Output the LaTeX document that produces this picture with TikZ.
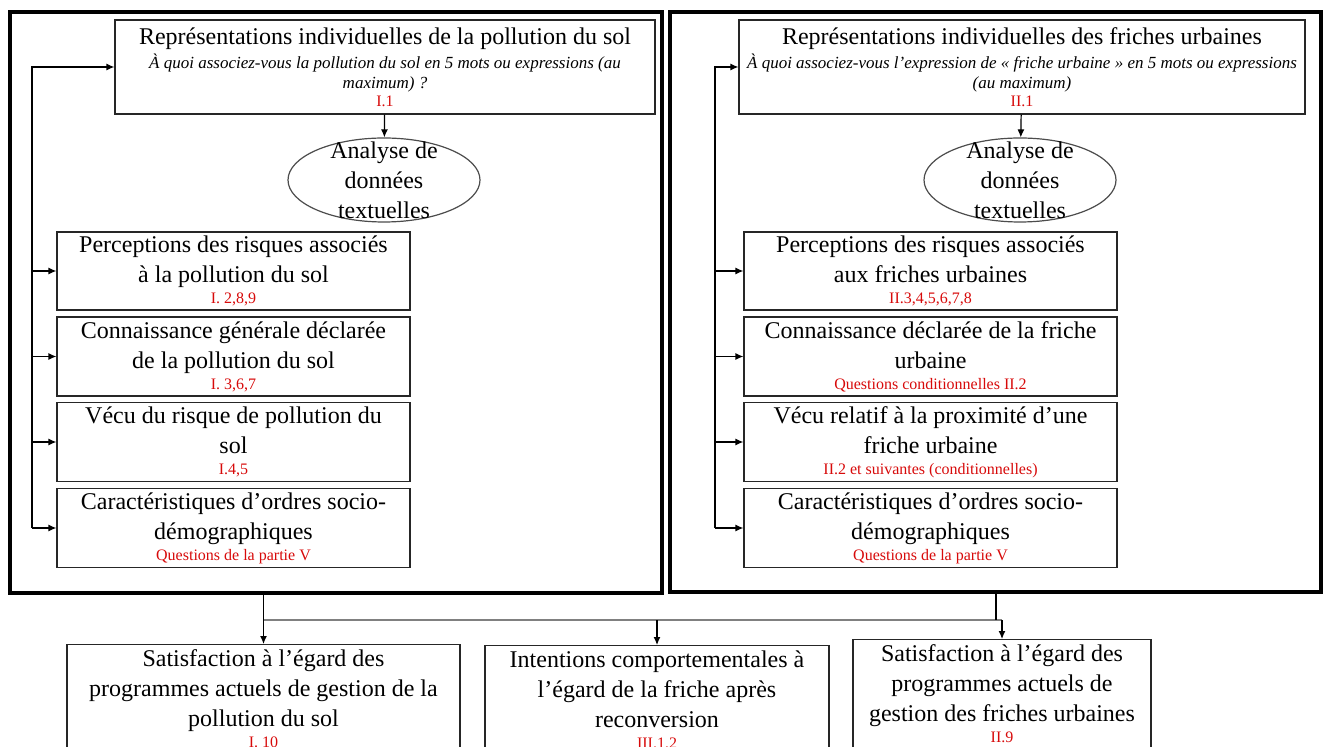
\documentclass[tikz,border=0pt]{standalone}
\usepackage{fontspec}
\setmainfont{Liberation Serif}
\usetikzlibrary{arrows.meta, positioning, shapes.geometric, calc}
\definecolor{rougeq}{RGB}{215,10,10}

\newcommand{\numq}[2][10.5]{{\color{rougeq}\fontsize{8}{#1}\selectfont #2\par}}
\newcommand{\quest}[1]{{\fontsize{8.5}{12}\selectfont\itshape #1\par}}

\begin{document}
\begin{tikzpicture}[
    x=0.5pt, y=-0.5pt,
    every node/.style={font=\fontsize{12}{15}\selectfont},
    cadre/.style={
        draw=black,
        line width=1.6pt
    },
    boite/.style={
        draw=black!85,
        line width=0.6pt,
        align=flush center,
        inner xsep=0pt,
        inner ysep=0pt
    },
    effet/.style={
        boite,
        anchor=north,
        inner ysep=2.5pt
    },
    bulle/.style={
        ellipse,
        draw=black!70,
        line width=0.6pt,
        minimum width=96pt,
        minimum height=42pt,
        inner sep=0pt
    },
    fleche/.style={
        -{Latex[length=4pt,width=3.5pt]},
        line width=0.6pt
    },
    bus/.style={
        draw=black!50,
        line width=0.9pt
    }
]

\useasboundingbox (0,0) rectangle (1325,747);
\clip (0,0) rectangle (1325,747);

% ============================================================
% POLLUTION DU SOL
% ============================================================

\node[cadre, minimum width=326pt, minimum height=290.5pt] (cadreG) at (336,302.5) {};

\node[
    boite,
    text width=270pt,
    minimum height=47pt
] (repG) at (385,67)
{Représentations individuelles  de la pollution du sol\par
\quest{À quoi associez-vous la pollution du sol en 5 mots ou expressions (au\\[-2pt]maximum) ?}
\numq[9]{I.1}};

\node[bulle] (ellG) at (384,180) {};
\node[align=center] (txtG) at (ellG.center) {Analyse de\\données\\textuelles};

% Blocs
\node[boite, text width=176.5pt, minimum height=39pt] (percG) at (233.5,271)
{Perceptions des risques associés\\à la pollution du sol\par\numq{I. 2,8,9}};
\node[boite, text width=176.5pt, minimum height=39.5pt] (connG) at (233.5,356.5)
{Connaissance générale déclarée\\de la pollution du sol\par\numq{I. 3,6,7}};
\node[boite, text width=176.5pt, minimum height=39.5pt] (vecuG) at (233.5,442)
{Vécu du risque de pollution du\\sol\par\numq{I.4,5}};
\node[boite, text width=176.5pt, minimum height=39.5pt] (caracG) at (233.5,528)
{Caractéristiques d’ordres socio-\\démographiques\par\numq{Questions  de la partie V}};

\draw[fleche] (repG) -- (ellG);

% Retour
\coordinate (retourG) at (32,0);
\draw[fleche] (caracG.west -| retourG) |- (repG.west);
\foreach \n in {percG, connG, vecuG, caracG}
    \draw[fleche] (\n.west -| retourG) -- (\n.west);

% ============================================================
% FRICHES URBAINES
% ============================================================

\node[cadre, minimum width=325.5pt, minimum height=290pt] (cadreD) at (995.5,302) {};

\node[
    boite,
    text width=283pt,
    minimum height=47pt
] (repD) at (1022,67)
{Représentations individuelles  des friches urbaines\par
\quest{À quoi associez-vous l’expression de « friche urbaine » en 5 mots ou expressions\\[-2pt](au maximum)}
\numq[9]{II.1}};

\node[bulle] (ellD) at (1020,180) {};
\node[align=center] (txtD) at (ellD.center) {Analyse de\\données\\textuelles};

% Blocs
\node[boite, text width=186.5pt, minimum height=39pt] (percD) at (930.5,271)
{Perceptions des risques associés\\aux friches urbaines\par\numq{II.3,4,5,6,7,8}};
\node[boite, text width=186.5pt, minimum height=39.5pt] (connD) at (930.5,356.5)
{Connaissance déclarée de la friche\\urbaine\par\numq{Questions  conditionnelles  II.2}};
\node[boite, text width=186.5pt, minimum height=39.5pt] (vecuD) at (930.5,442)
{Vécu relatif à la proximité d’une\\friche urbaine\par\numq{II.2 et suivantes  (conditionnelles)}};
\node[boite, text width=186.5pt, minimum height=39.5pt] (caracD) at (930.5,528)
{Caractéristiques d’ordres socio-\\démographiques\par\numq{Questions  de la partie V}};

\draw[fleche] (repD) -- (ellD);

% Retour
\coordinate (retourD) at (715,0);
\draw[fleche] (caracD.west -| retourD) |- (repD.west);
\foreach \n in {percD, connD, vecuD, caracD}
    \draw[fleche] (\n.west -| retourD) -- (\n.west);

% ============================================================
% EFFETS
% ============================================================

\node[effet, text width=196.5pt] (satisG) at (263.5,644)
{Satisfaction à l’égard des\\programmes actuels de gestion de la\\pollution du sol\par\numq{I. 10}\rule{0pt}{20pt}};
\node[effet, text width=172pt] (intent) at (657,645)
{Intentions comportementales à\\l’égard de la friche après\\reconversion\par\numq{III.1,2}\rule{0pt}{20pt}};
\node[effet, text width=149pt] (satisD) at (1002,639)
{Satisfaction à l’égard des\\programmes actuels de\\gestion des friches urbaines\par\numq{II.9}\rule{0pt}{20pt}};

% Liaisons
\coordinate (ligne) at (0,620);
\coordinate (sortieD) at (996,620);
\draw[bus] (satisG.north |- ligne) -- (satisD.north |- ligne);
\draw[line width=0.9pt] (cadreD.south -| sortieD) -- (sortieD);
\draw[fleche] (satisG.north |- cadreG.south) -- (satisG.north);
\draw[fleche] (intent.north |- ligne) -- (intent.north);
\draw[fleche] (satisD.north |- ligne) -- (satisD.north);

\end{tikzpicture}
\end{document}
